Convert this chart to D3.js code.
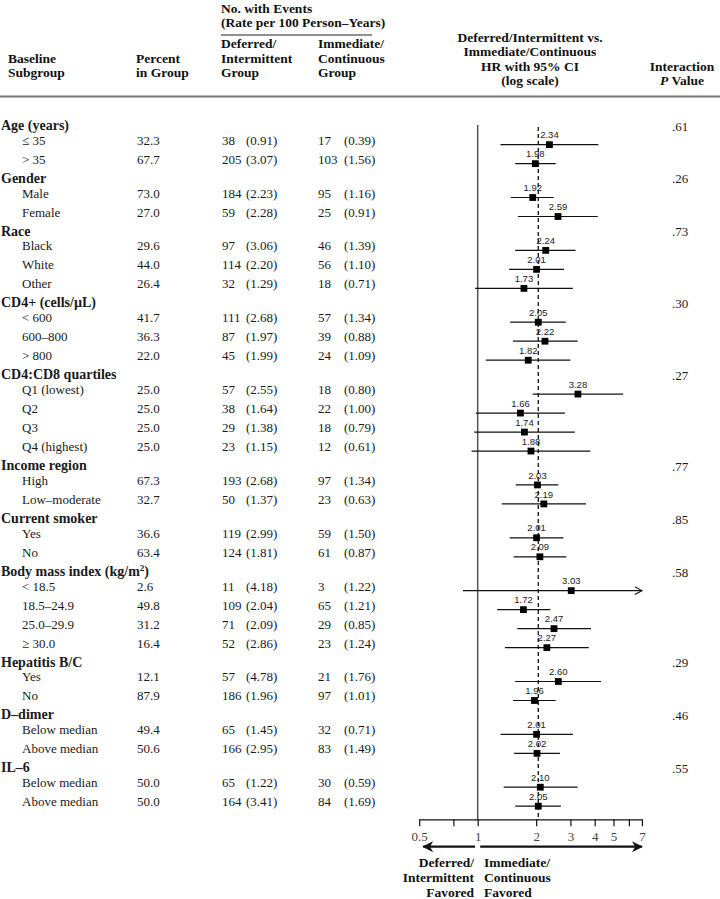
<!DOCTYPE html>
<html><head><meta charset="utf-8">
<script src="https://cdn.jsdelivr.net/npm/d3@7"></script>
<style>
body{margin:0;background:#fff;}
svg{display:block;}
</style></head>
<body>
<svg id="chart" width="720" height="899"></svg>
<script>
// ---------------- data ----------------
const groups = ["Age (years)", "Gender", "Race", "CD4+ (cells/µL)", "CD4:CD8 quartiles", "Income region",
  "Current smoker", "Body mass index (kg/m²)", "Hepatitis B/C", "D–dimer", "IL–6"];
const groupPValues = [".61", ".26", ".73", ".30", ".27", ".77", ".85", ".58", ".29", ".46", ".55"];
const groupSizes = [2, 2, 3, 3, 4, 2, 2, 4, 2, 2, 2];
const subgroups = ["≤ 35", "> 35", "Male", "Female", "Black", "White", "Other", "< 600", "600–800", "> 800",
  "Q1 (lowest)", "Q2", "Q3", "Q4 (highest)", "High", "Low–moderate", "Yes", "No",
  "< 18.5", "18.5–24.9", "25.0–29.9", "≥ 30.0", "Yes", "No", "Below median", "Above median",
  "Below median", "Above median"];
const percentInGroup = ["32.3", "67.7", "73.0", "27.0", "29.6", "44.0", "26.4", "41.7", "36.3", "22.0",
  "25.0", "25.0", "25.0", "25.0", "67.3", "32.7", "36.6", "63.4", "2.6", "49.8", "31.2", "16.4",
  "12.1", "87.9", "49.4", "50.6", "50.0", "50.0"];
const deferredEvents = [38, 205, 184, 59, 97, 114, 32, 111, 87, 45, 57, 38, 29, 23, 193, 50, 119, 124,
  11, 109, 71, 52, 57, 186, 65, 166, 65, 164];
const deferredRate = ["0.91", "3.07", "2.23", "2.28", "3.06", "2.20", "1.29", "2.68", "1.97", "1.99",
  "2.55", "1.64", "1.38", "1.15", "2.68", "1.37", "2.99", "1.81", "4.18", "2.04", "2.09", "2.86",
  "4.78", "1.96", "1.45", "2.95", "1.22", "3.41"];
const immediateEvents = [17, 103, 95, 25, 46, 56, 18, 57, 39, 24, 18, 22, 18, 12, 97, 23, 59, 61,
  3, 65, 29, 23, 21, 97, 32, 83, 30, 84];
const immediateRate = ["0.39", "1.56", "1.16", "0.91", "1.39", "1.10", "0.71", "1.34", "0.88", "1.09",
  "0.80", "1.00", "0.79", "0.61", "1.34", "0.63", "1.50", "0.87", "1.22", "1.21", "0.85", "1.24",
  "1.76", "1.01", "0.71", "1.49", "0.59", "1.69"];
const hazardRatio = [2.34, 1.98, 1.92, 2.59, 2.24, 2.01, 1.73, 2.05, 2.22, 1.82, 3.28, 1.66, 1.74, 1.88,
  2.03, 2.19, 2.01, 2.09, 3.03, 1.72, 2.47, 2.27, 2.60, 1.96, 2.01, 2.02, 2.10, 2.05];
const ciLower = [1.31, 1.56, 1.48, 1.61, 1.56, 1.45, 0.97, 1.47, 1.52, 1.10, 1.92, 0.98, 0.96, 0.93,
  1.57, 1.33, 1.46, 1.53, 0.84, 1.26, 1.60, 1.38, 1.56, 1.52, 1.31, 1.54, 1.36, 1.56];
const ciUpper = [4.18, 2.52, 2.46, 4.15, 3.19, 2.78, 3.09, 2.84, 3.27, 3.00, 5.60, 2.81, 3.16, 3.80,
  2.60, 3.61, 2.76, 2.86, 10.9, 2.36, 3.83, 3.73, 4.31, 2.52, 3.09, 2.65, 3.27, 2.68];
const overallHR = 2.05;
const axisTicks = [0.5, 0.75, 1, 2, 3, 4, 5, 6, 7];
const axisTickLabels = ["0.5", "", "1", "2", "3", "4", "5", "", "7"];

// ---------------- layout ----------------
const svg = d3.select("#chart");
const SERIF = '"Liberation Serif","Times New Roman",serif';
const SANS = '"Liberation Sans",Arial,sans-serif';

// layout units: item row = 1, header step = 0.782
const HEADER_U = 0.782;
const rows = [];
let u = 0, k = 0;
groups.forEach((g, gi) => {
  rows.push({type: "header", label: g, gi, u});
  u += HEADER_U;
  for (let j = 0; j < groupSizes[gi]; j++) {
    rows.push({type: "item", idx: k, u});
    k++;
    u += 1;
  }
});
const lastU = rows[rows.length - 1].u;
const y = d3.scaleLinear().domain([0, lastU]).range([129.8, 806.2]);

const x = d3.scaleLog().domain([0.5, 7]).range([419.2, 641.9]);
const xClip = v => Math.min(Math.max(v, 0.5), 7);

// ---------------- column headers ----------------
const hdr = svg.append("g").attr("font-family", SERIF).attr("font-weight", "bold")
  .attr("font-size", 13.5).attr("fill", "#111");
function lines(g, xx, ys, arr, anchor) {
  arr.forEach((t, i) => g.append("text").attr("x", xx).attr("y", ys[i])
    .attr("text-anchor", anchor || "start").text(t));
}
lines(hdr, 8, [62.5, 77], ["Baseline", "Subgroup"]);
lines(hdr, 136, [62.5, 77], ["Percent", "in Group"]);
lines(hdr, 221, [12.5, 27], ["No. with Events", "(Rate per 100 Person–Years)"]);
lines(hdr, 221, [48, 62.5, 77], ["Deferred/", "Intermittent", "Group"]);
lines(hdr, 318, [48, 62.5, 77], ["Immediate/", "Continuous", "Group"]);
lines(hdr, 530, [41.5, 56, 70.5, 85], ["Deferred/Intermittent vs.", "Immediate/Continuous",
  "HR with 95% CI", "(log scale)"], "middle");
hdr.append("text").attr("x", 682).attr("y", 70.5).attr("text-anchor", "middle").text("Interaction");
const pv = hdr.append("text").attr("x", 682).attr("y", 85).attr("text-anchor", "middle");
pv.append("tspan").attr("font-style", "italic").text("P");
pv.append("tspan").text(" Value");

svg.append("line").attr("x1", 221).attr("x2", 372).attr("y1", 35).attr("y2", 35)
  .attr("stroke", "#222").attr("stroke-width", 1.2);
svg.append("line").attr("x1", 0).attr("x2", 720).attr("y1", 96.5).attr("y2", 96.5)
  .attr("stroke", "#777").attr("stroke-width", 2);

// ---------------- table rows ----------------
const tbl = svg.append("g").attr("font-family", SERIF).attr("fill", "#1a1a1a");
rows.forEach(r => {
  const yy = y(r.u);
  if (r.type === "header") {
    const t = tbl.append("text").attr("x", 1).attr("y", yy).attr("font-weight", "bold")
      .attr("font-size", 14);
    if (r.label.indexOf("²") >= 0) {
      t.append("tspan").text("Body mass index (kg/m");
      t.append("tspan").attr("dy", -5).attr("font-size", 9).text("2");
      t.append("tspan").attr("dy", 5).text(")");
    } else t.text(r.label);
    tbl.append("text").attr("x", 680).attr("y", yy + 0.8).attr("font-size", 13)
      .attr("text-anchor", "middle").text(groupPValues[r.gi]);
  } else {
    const i = r.idx;
    const g = tbl.append("g").attr("font-size", 13);
    g.append("text").attr("x", 22).attr("y", yy).text(subgroups[i]);
    g.append("text").attr("x", 137).attr("y", yy).text(percentInGroup[i]);
    const c1 = g.append("text").attr("x", 222).attr("y", yy).text(deferredEvents[i]);
    const w1 = c1.node().getComputedTextLength();
    g.append("text").attr("x", Math.max(246, 222 + w1 + 3.3)).attr("y", yy).text("(" + deferredRate[i] + ")");
    const c2 = g.append("text").attr("x", 318).attr("y", yy).text(immediateEvents[i]);
    const w2 = c2.node().getComputedTextLength();
    g.append("text").attr("x", Math.max(344, 318 + w2 + 3.3)).attr("y", yy).text("(" + immediateRate[i] + ")");
  }
});

// ---------------- forest plot ----------------
const axisY = 819.3;
const plot = svg.append("g");
plot.append("line").attr("x1", x(1)).attr("x2", x(1)).attr("y1", 125).attr("y2", axisY)
  .attr("stroke", "#555").attr("stroke-width", 1.5);
plot.append("line").attr("x1", x(overallHR)).attr("x2", x(overallHR)).attr("y1", 127).attr("y2", axisY)
  .attr("stroke", "#111").attr("stroke-width", 1.3).attr("stroke-dasharray", "4,3");

const items = rows.filter(r => r.type === "item");
items.forEach(r => {
  const i = r.idx, yy = y(r.u);
  const x1 = x(xClip(ciLower[i])), x2 = x(xClip(ciUpper[i]));
  plot.append("line").attr("x1", x1).attr("x2", x2).attr("y1", yy).attr("y2", yy)
    .attr("stroke", "#111").attr("stroke-width", 1.2);
  if (ciUpper[i] > 7) {
    plot.append("path").attr("d", `M${x2 - 7},${yy - 3.8}L${x2},${yy}L${x2 - 7},${yy + 3.8}`)
      .attr("fill", "none").attr("stroke", "#111").attr("stroke-width", 1.1);
  }
  plot.append("rect").attr("x", x(hazardRatio[i]) - 3.4).attr("y", yy - 3.4)
    .attr("width", 6.8).attr("height", 6.8).attr("fill", "#000");
  plot.append("text").attr("x", x(hazardRatio[i])).attr("y", yy - 6.3)
    .attr("text-anchor", "middle").attr("font-family", SANS).attr("font-size", 9.5)
    .attr("fill", "#222").text(hazardRatio[i].toFixed(2));
});

// axis
const axis = d3.axisBottom(x).tickValues(axisTicks)
  .tickFormat((d, i) => axisTickLabels[i]).tickSize(7).tickSizeOuter(0).tickPadding(5);
const ag = svg.append("g").attr("transform", `translate(0,${axisY})`).call(axis);
ag.select(".domain").attr("stroke", "#111").attr("stroke-width", 1.3);
ag.selectAll(".tick line").attr("stroke", "#111").attr("stroke-width", 1.2);
ag.selectAll(".tick text").attr("font-family", SERIF).attr("font-size", 13)
  .attr("fill", "#444").attr("font-weight", "normal");

// direction arrows
const defs = svg.append("defs");
defs.append("marker").attr("id", "ah").attr("viewBox", "0 0 10 10").attr("refX", 9).attr("refY", 5)
  .attr("markerWidth", 5).attr("markerHeight", 5).attr("orient", "auto-start-reverse")
  .attr("markerUnits", "strokeWidth")
  .append("path").attr("d", "M0,0L10,5L0,10L3,5Z").attr("fill", "#111");
const arrowY = 846.7;
svg.append("line").attr("x1", x(0.97)).attr("x2", x(0.525)).attr("y1", arrowY).attr("y2", arrowY)
  .attr("stroke", "#111").attr("stroke-width", 2.2).attr("marker-end", "url(#ah)");
svg.append("line").attr("x1", x(1.03)).attr("x2", x(7)).attr("y1", arrowY).attr("y2", arrowY)
  .attr("stroke", "#111").attr("stroke-width", 2.2).attr("marker-end", "url(#ah)");

const fav = svg.append("g").attr("font-family", SERIF).attr("font-weight", "bold")
  .attr("font-size", 13.5).attr("fill", "#111");
lines(fav, 474, [866.5, 881.5, 896.5], ["Deferred/", "Intermittent", "Favored"], "end");
lines(fav, 484, [866.5, 881.5, 896.5], ["Immediate/", "Continuous", "Favored"], "start");
</script>
</body></html>
